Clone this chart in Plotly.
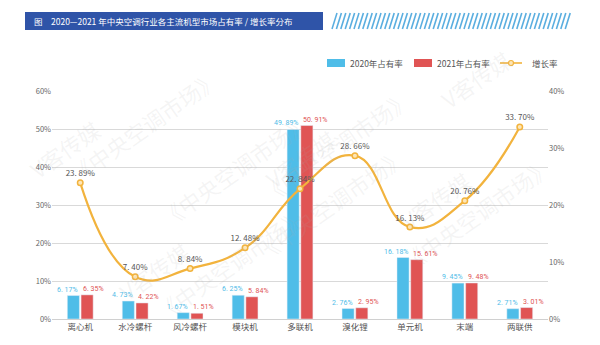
import plotly.graph_objects as go

categories = ["离心机", "水冷螺杆", "风冷螺杆", "模块机", "多联机", "溴化锂", "单元机", "末端", "两联供"]
share_2020 = [6.17, 4.73, 1.67, 6.25, 49.89, 2.76, 16.18, 9.45, 2.71]
share_2021 = [6.35, 4.22, 1.51, 5.84, 50.91, 2.95, 15.61, 9.48, 3.01]
growth = [23.89, 7.40, 8.84, 12.48, 22.84, 28.66, 16.13, 20.76, 33.70]

FONT = "Noto Sans CJK SC"
LBL = "Roboto"
BLUE = "#4fbde8"
RED = "#e05454"
ORANGE = "#f2b33d"

L, R, T, B = 52, 52, 91, 26
PW, PH = 600 - L - R, 345 - T - B


def px(x):
    return (x - L) / PW


def py(y):
    return (345 - B - y) / PH


def fmt(v):
    s = f"{v:.2f}"
    a, b = s.split(".")
    return f"{a}. {b}%"


fig = go.Figure()
fig.add_trace(go.Bar(
    x=categories, y=share_2020, name="2020年占有率", marker_color=BLUE,
))
fig.add_trace(go.Bar(
    x=categories, y=share_2021, name="2021年占有率", marker_color=RED,
))
fig.add_trace(go.Scatter(
    x=categories, y=growth, name="增长率", yaxis="y2", mode="lines+markers+text",
    line=dict(color=ORANGE, width=2.2, shape="spline", smoothing=1.3),
    marker=dict(size=5.5, color="#fde6b8", line=dict(color=ORANGE, width=1.5)),
    text=[fmt(v) for v in growth], textposition="top center",
    textfont=dict(color="#555555", size=8, family=FONT), cliponaxis=False,
))

# bar value labels: blue to the left of the category centre, red to the right
for cat, v in zip(categories, share_2020):
    fig.add_annotation(x=cat, y=v, text=fmt(v), showarrow=False, xanchor="right",
                       yanchor="bottom", xshift=0, yshift=0,
                       font=dict(family=LBL, size=7, color=BLUE))
for cat, v in zip(categories, share_2021):
    fig.add_annotation(x=cat, y=v, text=fmt(v), showarrow=False, xanchor="left",
                       yanchor="bottom", xshift=1, yshift=0,
                       font=dict(family=LBL, size=7, color=RED))

fig.update_layout(
    width=600, height=345,
    margin=dict(l=L, r=R, t=T, b=B),
    paper_bgcolor="white", plot_bgcolor="white",
    font=dict(family=FONT, size=8, color="#666666"),
    barmode="group", bargap=0.5, bargroupgap=0.12,
    showlegend=False,
    xaxis=dict(showgrid=False, showline=True, linecolor="#d0d0d0", ticks="",
               tickfont=dict(size=8.5, color="#555555")),
    yaxis=dict(range=[0, 60], dtick=10, ticksuffix="%", showgrid=True, gridcolor="#d9d9d9",
               zeroline=False, tickfont=dict(size=7.5, color="#666666")),
    yaxis2=dict(range=[0, 40], dtick=10, ticksuffix="%", overlaying="y", side="right",
                showgrid=False, zeroline=False, tickfont=dict(size=7.5, color="#666666")),
)

# Legend (drawn manually)
legend_y = 63
fig.add_shape(type="rect", xref="paper", yref="paper", x0=px(327), x1=px(345),
              y0=py(legend_y + 4), y1=py(legend_y - 4), fillcolor=BLUE, line=dict(width=0))
fig.add_annotation(xref="paper", yref="paper", x=px(348), y=py(legend_y), xanchor="left",
                   yanchor="middle", showarrow=False, text="2020年占有率",
                   font=dict(family=FONT, size=8.5, color="#555555"))
fig.add_shape(type="rect", xref="paper", yref="paper", x0=px(414), x1=px(432),
              y0=py(legend_y + 4), y1=py(legend_y - 4), fillcolor=RED, line=dict(width=0))
fig.add_annotation(xref="paper", yref="paper", x=px(435), y=py(legend_y), xanchor="left",
                   yanchor="middle", showarrow=False, text="2021年占有率",
                   font=dict(family=FONT, size=8.5, color="#555555"))
fig.add_shape(type="line", xref="paper", yref="paper", x0=px(500), x1=px(522),
              y0=py(legend_y), y1=py(legend_y), line=dict(color=ORANGE, width=1.6))
fig.add_shape(type="circle", xref="paper", yref="paper", x0=px(508.5), x1=px(513.5),
              y0=py(legend_y + 2.5), y1=py(legend_y - 2.5), fillcolor="#fde6b8",
              line=dict(color=ORANGE, width=1.2))
fig.add_annotation(xref="paper", yref="paper", x=px(530), y=py(legend_y), xanchor="left",
                   yanchor="middle", showarrow=False, text="增长率",
                   font=dict(family=FONT, size=8.5, color="#555555"))

# Title banner
fig.add_shape(type="rect", xref="paper", yref="paper", x0=px(25), x1=px(323),
              y0=py(30), y1=py(12), fillcolor="#2f54a8", line=dict(width=0), layer="above")
fig.add_annotation(xref="paper", yref="paper", x=px(32), y=py(21),
                   xanchor="left", yanchor="middle", showarrow=False,
                   text="图　2020—2021 年中央空调行业各主流机型市场占有率 / 增长率分布",
                   font=dict(family=FONT, size=8.5, color="white"))
# Diagonal stripes
x0 = 332
while x0 < 568:
    fig.add_shape(type="line", xref="paper", yref="paper",
                  x0=px(x0), x1=px(x0 + 5), y0=py(29), y1=py(13),
                  line=dict(color="#5aaee0", width=1.6))
    x0 += 4.4

# Faint watermarks
wm = [("《中央空调市场》", 60, 60), ("V客传媒", 20, 110), ("《中央空调市场》", 150, 170),
      ("V客传媒", 300, 120), ("《中央空调市场》", 420, 80), ("V客传媒", 480, 200),
      ("《中央空调市场》", 330, 270), ("V客传媒", 110, 310), ("《中央空调市场》", 560, 280),
      ("V客传媒", 520, 40), ("《中央空调市场》", 230, 330)]
for t, wx, wy in wm:
    fig.add_annotation(xref="paper", yref="paper", x=px(wx), y=py(wy),
                       text=t, showarrow=False, textangle=-35,
                       font=dict(family=FONT, size=22, color="rgba(170,170,170,0.13)"))

fig.write_html("out.html")
